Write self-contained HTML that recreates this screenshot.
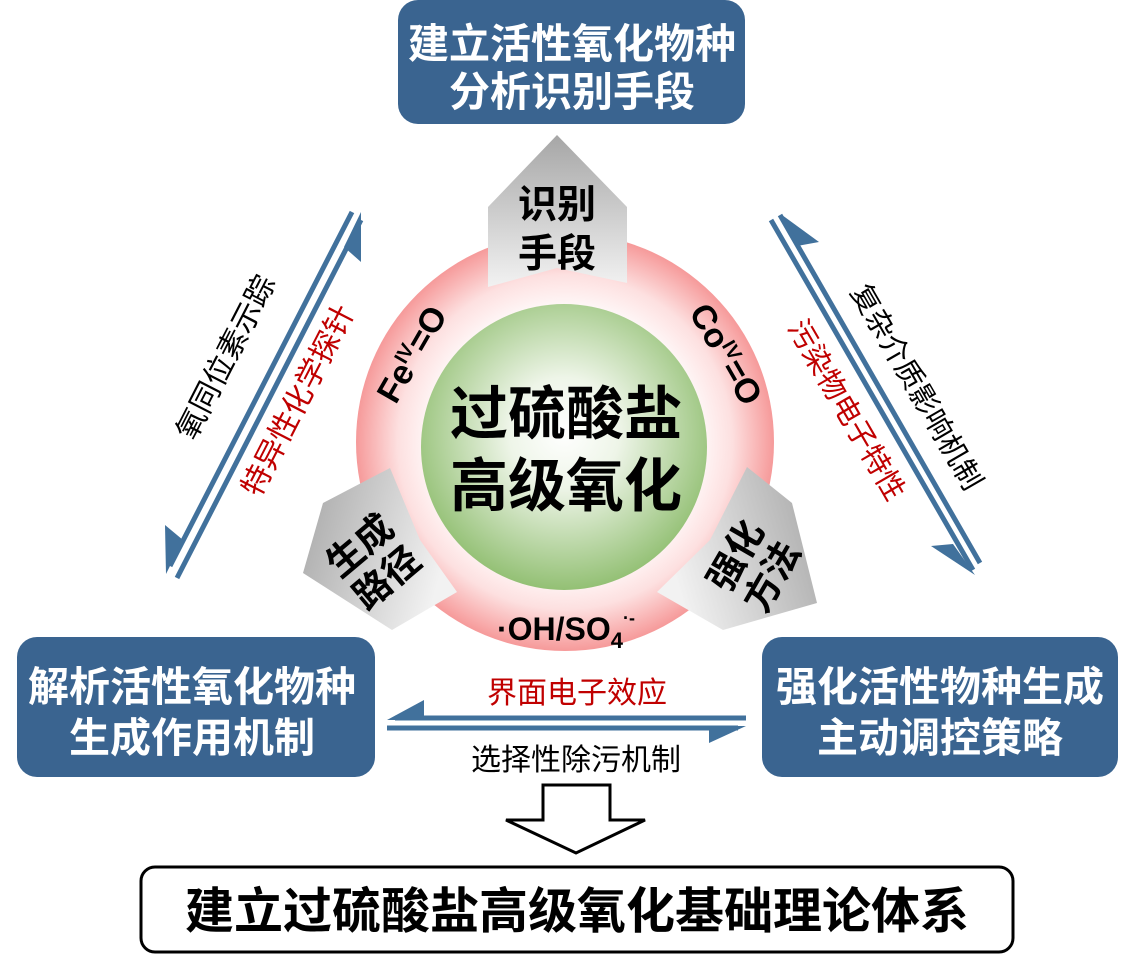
<!DOCTYPE html>
<html><head><meta charset="utf-8"><style>
html,body{margin:0;padding:0;background:#fff}
svg{display:block}
text{font-family:"Liberation Sans","Noto Sans CJK SC",sans-serif}
</style></head><body>
<svg width="1132" height="972" viewBox="0 0 1132 972" xmlns="http://www.w3.org/2000/svg">
<defs>
<radialGradient id="ring" cx="0.5" cy="0.5" r="0.5">
<stop offset="0.6" stop-color="#ffffff"/><stop offset="0.8" stop-color="#fde0e0"/><stop offset="1" stop-color="#f69a9a"/>
</radialGradient>
<radialGradient id="green" cx="0.5" cy="0.45" r="0.55">
<stop offset="0" stop-color="#ffffff"/><stop offset="0.35" stop-color="#eef5e8"/><stop offset="1" stop-color="#93c074"/>
</radialGradient>
<linearGradient id="gT" x1="0" y1="0" x2="0" y2="1"><stop offset="0" stop-color="#a6a6a6"/><stop offset="1" stop-color="#f2f2f2"/></linearGradient>
<linearGradient id="gL" x1="0" y1="0" x2="1" y2="0.3"><stop offset="0" stop-color="#a6a6a6"/><stop offset="1" stop-color="#f2f2f2"/></linearGradient>
<linearGradient id="gR" x1="1" y1="0" x2="0" y2="0.3"><stop offset="0" stop-color="#a6a6a6"/><stop offset="1" stop-color="#f2f2f2"/></linearGradient>
</defs>

<rect x="398" y="0" width="347" height="124" rx="20" fill="#3a6490"/>
<text x="572" y="58" text-anchor="middle" font-size="41" font-weight="bold" fill="#fff">建立活性氧化物种</text>
<text x="572" y="106" text-anchor="middle" font-size="41" font-weight="bold" fill="#fff">分析识别手段</text>

<rect x="17" y="637" width="358" height="140" rx="20" fill="#3a6490"/>
<text x="192" y="701" text-anchor="middle" font-size="41" font-weight="bold" fill="#fff">解析活性氧化物种</text>
<text x="192" y="752" text-anchor="middle" font-size="41" font-weight="bold" fill="#fff">生成作用机制</text>

<rect x="762" y="637" width="356" height="140" rx="20" fill="#3a6490"/>
<text x="940" y="701" text-anchor="middle" font-size="41" font-weight="bold" fill="#fff">强化活性物种生成</text>
<text x="940" y="752" text-anchor="middle" font-size="41" font-weight="bold" fill="#fff">主动调控策略</text>

<rect x="141" y="867" width="872" height="85" rx="14" fill="#fff" stroke="#000" stroke-width="3"/>
<text x="577" y="928" text-anchor="middle" font-size="49" font-weight="bold" fill="#000">建立过硫酸盐高级氧化基础理论体系</text>

<circle cx="565" cy="442" r="209" fill="url(#ring)"/>
<circle cx="564" cy="447" r="143" fill="url(#green)"/>
<text x="566" y="434" text-anchor="middle" font-size="58" font-weight="bold" fill="#000">过硫酸盐</text>
<text x="566" y="506" text-anchor="middle" font-size="58" font-weight="bold" fill="#000">高级氧化</text>

<polygon points="488,207 557,135 627,207 627,283 557,268 488,287" fill="url(#gT)"/>
<text x="557" y="218" text-anchor="middle" font-size="39" font-weight="bold">识别</text>
<text x="557" y="267" text-anchor="middle" font-size="39" font-weight="bold">手段</text>

<polygon points="323,503 390,468 420,540 457,592 392,630 303,573" fill="url(#gL)"/>
<g transform="translate(372,560) rotate(-40)">
<text x="0" y="-6" text-anchor="middle" font-size="37" font-weight="bold">生成</text>
<text x="0" y="36" text-anchor="middle" font-size="37" font-weight="bold">路径</text>
</g>

<polygon points="747,467 792,503 817,603 723,630 657,592 710,540" fill="url(#gR)"/>
<g transform="translate(752,565) rotate(-60)">
<text x="0" y="-6" text-anchor="middle" font-size="37" font-weight="bold">强化</text>
<text x="0" y="36" text-anchor="middle" font-size="37" font-weight="bold">方法</text>
</g>

<text transform="translate(422,360) rotate(-60)" text-anchor="middle" font-size="34" font-weight="bold">Fe<tspan font-size="20" dy="-12">IV</tspan><tspan dy="12">=O</tspan></text>
<text transform="translate(716,360) rotate(60)" text-anchor="middle" font-size="34" font-weight="bold">Co<tspan font-size="20" dy="-12">IV</tspan><tspan dy="12">=O</tspan></text>
<text x="566" y="640" text-anchor="middle" font-size="32" font-weight="bold">·OH/SO<tspan font-size="22" dy="8">4</tspan><tspan font-size="18" dy="-24">·-</tspan></text>

<g stroke="#41719c" stroke-width="5" fill="#41719c">
<line x1="352" y1="212" x2="170" y2="566"/>
<polygon points="166,574 165,525 183,540" stroke="none"/>
<line x1="361" y1="220" x2="177" y2="578"/>
<polygon points="361,212 361,262 344,247" stroke="none"/>
</g>
<text transform="translate(235,362) rotate(-62.8)" text-anchor="middle" font-size="30" fill="#000">氧同位素示踪</text>
<text transform="translate(307,405) rotate(-62.8)" text-anchor="middle" font-size="30" fill="#c00000">特异性化学探针</text>

<g stroke="#41719c" stroke-width="5" fill="#41719c">
<line x1="771" y1="220" x2="973" y2="570"/>
<polygon points="782,215 819,242 797,246" stroke="none"/>
<line x1="780" y1="215" x2="980" y2="563"/>
<polygon points="975,575 931,546 953,544" stroke="none"/>
</g>
<text transform="translate(908,392) rotate(59.9)" text-anchor="middle" font-size="29" fill="#000">复杂介质影响机制</text>
<text transform="translate(838,415) rotate(59.9)" text-anchor="middle" font-size="29" fill="#c00000">污染物电子特性</text>

<g stroke="#41719c" stroke-width="5" fill="#41719c">
<line x1="395" y1="718" x2="746" y2="718"/>
<polygon points="387,720 424,700 424,720" stroke="none"/>
<line x1="387" y1="728" x2="738" y2="728"/>
<polygon points="746,726 709,743 709,726" stroke="none"/>
</g>
<text x="577" y="703" text-anchor="middle" font-size="30" fill="#c00000">界面电子效应</text>
<text x="576" y="770" text-anchor="middle" font-size="30" fill="#000">选择性除污机制</text>

<polygon points="543,785 610,785 610,820 645,820 576,853 506,820 543,820" fill="#fff" stroke="#000" stroke-width="3" stroke-linejoin="miter"/>
</svg>
</body></html>
